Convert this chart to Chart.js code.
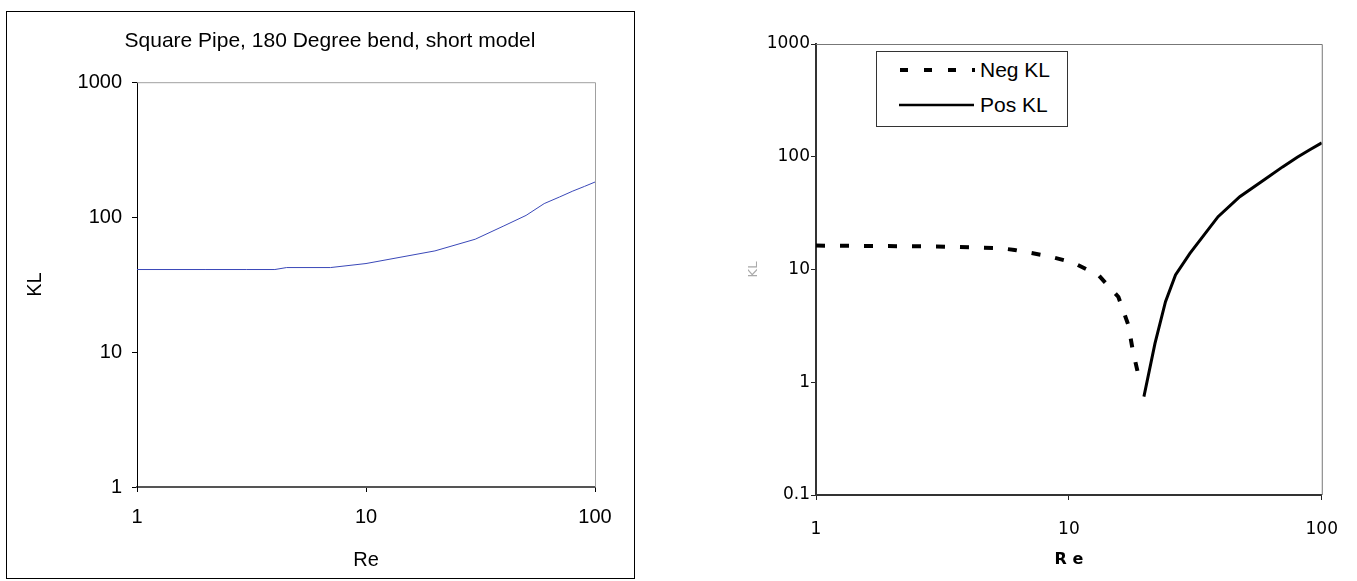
<!DOCTYPE html>
<html>
<head>
<meta charset="utf-8">
<script src="https://cdn.jsdelivr.net/npm/chart.js@4/dist/chart.umd.min.js"></script>
<style>
  body { margin: 0; background: #fff; width: 1357px; height: 581px; overflow: hidden; position: relative; }
  #left { position: absolute; left: 0; top: 0; }
  #right { position: absolute; left: 680px; top: 0; }
  #frame { position: absolute; left: 6px; top: 11px; width: 627px; height: 566px; border: 1px solid #000; pointer-events: none; }
  #legend { position: absolute; left: 876px; top: 51px; width: 190px; height: 74px; border: 1px solid #333; background: #fff;
            font-family: "Liberation Sans", Arial, sans-serif; font-size: 21px; color: #000; }
  #legend .row { position: absolute; left: 0; height: 24px; line-height: 24px; }
  #legend svg { position: absolute; left: 22px; top: 7px; }
  #legend span { position: absolute; left: 103px; white-space: nowrap; }
</style>
</head>
<body>
<canvas id="left" width="660" height="581"></canvas>
<div id="frame"></div>
<canvas id="right" width="677" height="581"></canvas>
<div id="legend">
  <div class="row" style="top:6px"><svg width="80" height="10"><line x1="1" y1="5" x2="76" y2="5" stroke="#000" stroke-width="4" stroke-dasharray="8 16"/></svg><span>Neg KL</span></div>
  <div class="row" style="top:41px"><svg width="80" height="10"><line x1="0" y1="5" x2="75" y2="5" stroke="#000" stroke-width="2.5"/></svg><span>Pos KL</span></div>
</div>
<script>
// left chart: square pipe, 180 degree bend
const leftRe = [1, 2, 3, 4, 4.5, 7, 10, 20, 30, 40, 50, 60, 70, 80, 90, 100];
const leftKL = [40.9, 40.9, 40.9, 40.9, 42.3, 42.3, 45.3, 56.2, 68.6, 86.1, 103, 126, 141, 156, 169, 182];
const leftXTicks = [1, 10, 100];
const leftYTicks = [1, 10, 100, 1000];

// right chart: negative / positive KL
const negRe = [1, 3, 5.3, 6.1, 8.2, 10.3, 13.1, 15.7, 17.2, 17.9, 18.7];
const negKL = [16.3, 16.0, 15.5, 14.9, 13.2, 11.6, 8.9, 5.7, 3.2, 1.9, 1.24];
const posRe = [19.8, 21.9, 24.1, 26.4, 30.1, 38.9, 47.4, 60, 70, 80, 90, 100];
const posKL = [0.745, 2.21, 5.18, 8.94, 13.9, 29.4, 44.2, 63.8, 81.3, 99, 116, 133];
const rightXTicks = [1, 10, 100];
const rightYTicks = [0.1, 1, 10, 100, 1000];

const pts = (xs, ys) => xs.map((x, i) => ({x: x, y: ys[i]}));
const setTicks = vals => s => { s.ticks = vals.map(v => ({value: v})); };

// top and right edge of the plot area
const plotFrame = {
    id: 'plotFrame',
    afterDraw(chart, args, opts) {
        const { ctx, chartArea: a } = chart;
        ctx.save();
        ctx.strokeStyle = opts.color || '#999';
        ctx.lineWidth = 1;
        ctx.beginPath();
        ctx.moveTo(a.left, a.top + 0.5);
        ctx.lineTo(a.right + 0.5, a.top + 0.5);
        ctx.lineTo(a.right + 0.5, a.bottom);
        ctx.stroke();
        ctx.restore();
    }
};

const arial = '"Liberation Sans", Arial, sans-serif';
const dejavu = '"DejaVu Sans", Verdana, sans-serif';

new Chart(document.getElementById('left'), {
    type: 'line',
    plugins: [plotFrame],
    data: {
        datasets: [{
            data: pts(leftRe, leftKL),
            borderColor: '#3a48b8',
            borderWidth: 1,
            pointRadius: 0,
            tension: 0
        }]
    },
    options: {
        responsive: false,
        animation: false,
        devicePixelRatio: 1,
        layout: { padding: 0 },
        plugins: {
            legend: { display: false },
            tooltip: { enabled: false },
            title: {
                display: true,
                text: 'Square Pipe, 180 Degree bend, short model',
                color: '#000',
                font: { family: arial, size: 21, weight: 'normal' },
                padding: { top: 29, bottom: 28 }
            },
            plotFrame: { color: '#a0a0a0' }
        },
        scales: {
            x: {
                type: 'logarithmic',
                min: 1, max: 100,
                afterBuildTicks: setTicks(leftXTicks),
                afterFit: s => { s.height = 94; },
                ticks: { color: '#000', font: { family: arial, size: 20 }, padding: 13, maxRotation: 0, autoSkip: false,
                         callback: v => String(v) },
                grid: { drawOnChartArea: false, drawTicks: true, tickLength: 5, tickColor: '#000' },
                border: { color: '#555', width: 2 },
                title: { display: true, text: 'Re', color: '#000', font: { family: arial, size: 20 }, padding: { top: 0, bottom: 9 } }
            },
            y: {
                type: 'logarithmic',
                min: 1, max: 1000,
                afterBuildTicks: setTicks(leftYTicks),
                afterFit: s => { s.width = 137; },
                ticks: { color: '#000', font: { family: arial, size: 20 }, padding: 10, autoSkip: false,
                         callback: v => String(v) },
                grid: { drawOnChartArea: false, drawTicks: true, tickLength: 5, tickColor: '#000' },
                border: { color: '#000', width: 1 },
                title: { display: true, text: 'KL', color: '#000', font: { family: arial, size: 20 }, padding: { top: 23, bottom: 0 } }
            },
            // empty right gutter so the title centres on the whole frame
            gutter: {
                type: 'linear',
                position: 'right',
                display: true,
                afterFit: s => { s.width = 65; },
                ticks: { display: false },
                grid: { display: false, drawTicks: false },
                border: { display: false }
            }
        }
    }
});

new Chart(document.getElementById('right'), {
    type: 'line',
    plugins: [plotFrame],
    data: {
        datasets: [
            {
                label: 'Neg KL',
                data: pts(negRe, negKL),
                borderColor: '#000',
                borderWidth: 4,
                borderDash: [9, 15],
                pointRadius: 0,
                tension: 0
            },
            {
                label: 'Pos KL',
                data: pts(posRe, posKL),
                borderColor: '#000',
                borderWidth: 3,
                pointRadius: 0,
                tension: 0
            }
        ]
    },
    options: {
        responsive: false,
        animation: false,
        devicePixelRatio: 1,
        layout: { padding: { left: 0, right: 35, top: 44, bottom: 0 } },
        plugins: {
            legend: { display: false },
            tooltip: { enabled: false },
            plotFrame: { color: '#777' }
        },
        scales: {
            x: {
                type: 'logarithmic',
                min: 1, max: 100,
                afterBuildTicks: setTicks(rightXTicks),
                afterFit: s => { s.height = 86; },
                ticks: { color: '#000', font: { family: dejavu, size: 17 }, padding: 19, maxRotation: 0, autoSkip: false,
                         callback: v => String(v) },
                grid: { drawOnChartArea: false, drawTicks: true, tickLength: 5, tickColor: '#222' },
                border: { color: '#333', width: 2 },
                title: { display: true, text: 'R e', color: '#000', font: { family: dejavu, size: 16, weight: 'bold' }, padding: { top: 0, bottom: 12 } }
            },
            y: {
                type: 'logarithmic',
                min: 0.1, max: 1000,
                afterBuildTicks: setTicks(rightYTicks),
                afterFit: s => { s.width = 136; },
                ticks: { color: '#000', font: { family: dejavu, size: 17 }, padding: 1, autoSkip: false,
                         callback: v => String(v) },
                grid: { drawOnChartArea: false, drawTicks: true, tickLength: 5, tickColor: '#222' },
                border: { color: '#333', width: 2 },
                title: { display: true, text: 'KL', color: '#aaa', font: { family: dejavu, size: 13 }, padding: { top: 66, bottom: 0 } }
            }
        }
    }
});
</script>
</body>
</html>
